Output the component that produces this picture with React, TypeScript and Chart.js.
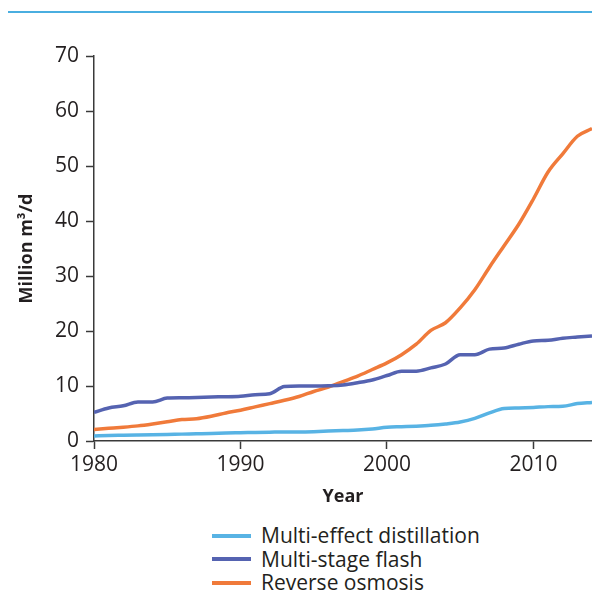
import React, { useEffect, useRef } from "react";
import { Chart, registerables } from "chart.js";

Chart.register(...registerables);

const years = [
  1980, 1981, 1982, 1983, 1984, 1985, 1986, 1987, 1988, 1989,
  1990, 1991, 1992, 1993, 1994, 1995, 1996, 1997, 1998, 1999,
  2000, 2001, 2002, 2003, 2004, 2005, 2006, 2007, 2008, 2009,
  2010, 2011, 2012, 2013, 2014,
];

const multiEffectDistillation = [
  0.9, 1.0, 1.05, 1.1, 1.15, 1.2, 1.25, 1.3, 1.35, 1.45,
  1.5, 1.55, 1.6, 1.65, 1.65, 1.7, 1.8, 1.9, 2.0, 2.2,
  2.5, 2.6, 2.7, 2.85, 3.1, 3.45, 4.1, 5.1, 5.9, 6.0,
  6.1, 6.25, 6.3, 6.8, 7.0,
];

const multiStageFlash = [
  5.2, 6.0, 6.4, 7.1, 7.1, 7.8, 7.85, 7.9, 8.0, 8.05,
  8.15, 8.4, 8.6, 9.9, 10.0, 10.0, 10.05, 10.2, 10.6, 11.1,
  11.9, 12.7, 12.7, 13.3, 14.0, 15.7, 15.7, 16.7, 16.9, 17.6,
  18.2, 18.3, 18.7, 18.9, 19.1,
];

const reverseOsmosis = [
  2.1, 2.3, 2.5, 2.75, 3.1, 3.5, 3.9, 4.05, 4.5, 5.1,
  5.6, 6.2, 6.8, 7.4, 8.1, 9.0, 9.8, 10.8, 11.8, 13.0,
  14.2, 15.7, 17.6, 20.1, 21.5, 24.2, 27.5, 31.6, 35.5, 39.4,
  44.0, 48.9, 52.2, 55.4, 56.8,
];

const seriesNames = ["Multi-effect distillation", "Multi-stage flash", "Reverse osmosis"];
const seriesColors = ["#58b3e4", "#5563b1", "#f07a3a"];
const seriesValues = [multiEffectDistillation, multiStageFlash, reverseOsmosis];

const xTickValues = [1980, 1990, 2000, 2010];
const yTickValues = [0, 10, 20, 30, 40, 50, 60, 70];

const TEXT = "#231f20";
const FONT = "'Open Sans', 'Noto Sans', sans-serif";

export default function App() {
  const canvasRef = useRef<HTMLCanvasElement | null>(null);

  useEffect(() => {
    const canvas = canvasRef.current;
    if (!canvas) return;
    const chart = new Chart(canvas, {
      type: "line",
      data: {
        datasets: seriesNames.map((name, i) => ({
          label: name,
          data: years.map((yr, j) => ({ x: yr, y: seriesValues[i][j] })),
          borderColor: seriesColors[i],
          backgroundColor: seriesColors[i],
          borderWidth: 3.5,
          pointRadius: 0,
          cubicInterpolationMode: "monotone" as const,
          borderJoinStyle: "round" as const,
          fill: false,
        })),
      },
      options: {
        animation: false,
        responsive: true,
        maintainAspectRatio: false,
        layout: { padding: { top: 43, right: 0, bottom: 0, left: 0 } },
        plugins: {
          legend: { display: false },
          tooltip: { enabled: false },
        },
        scales: {
          x: {
            type: "linear",
            min: 1980,
            max: 2014,
            afterBuildTicks: (scale: any) => {
              scale.ticks = xTickValues.map((v) => ({ value: v }));
            },
            afterFit: (scale: any) => {
              scale.height = 70;
            },
            ticks: {
              color: TEXT,
              font: { family: FONT, size: 21 },
              padding: 3,
              maxRotation: 0,
              callback: (v: any) => String(v),
            },
            grid: {
              drawOnChartArea: false,
              drawTicks: true,
              tickLength: 8,
              tickColor: "#3a3a3a",
              tickWidth: 1.5,
            },
            border: { display: true, color: "#3a3a3a", width: 1.5 },
            title: {
              display: true,
              text: "Year",
              color: TEXT,
              font: { family: FONT, size: 18, weight: "bold" },
              padding: { top: 0, bottom: 3 },
            },
          },
          y: {
            type: "linear",
            min: 0,
            max: 70,
            afterBuildTicks: (scale: any) => {
              scale.ticks = yTickValues.map((v) => ({ value: v }));
            },
            afterFit: (scale: any) => {
              scale.width = 86;
            },
            ticks: {
              color: TEXT,
              font: { family: FONT, size: 21 },
              padding: 7,
            },
            grid: {
              drawOnChartArea: false,
              drawTicks: true,
              tickLength: 8,
              tickColor: "#3a3a3a",
              tickWidth: 1.5,
            },
            border: { display: true, color: "#3a3a3a", width: 1.5 },
            title: {
              display: true,
              text: "Million m³/d",
              color: TEXT,
              font: { family: FONT, size: 18, weight: "bold" },
              padding: { top: 8, bottom: 0 },
            },
          },
        },
      },
    });
    return () => chart.destroy();
  }, []);

  return (
    <div style={{ position: "absolute", left: 8, top: 8, paddingTop: 3, width: 584, overflow: "hidden" }}>
      <div style={{ height: 2, background: "#4aaee0" }} />
      <div style={{ position: "relative", width: 584, height: 498 }}>
        <canvas ref={canvasRef} />
      </div>
      <div style={{ marginTop: 13, marginLeft: 204, fontFamily: FONT, fontSize: 21, color: TEXT }}>
        {seriesNames.map((name, i) => (
          <div key={name} style={{ display: "flex", alignItems: "center", height: 23.5 }}>
            <span style={{ display: "inline-block", width: 39, height: 4, background: seriesColors[i], marginRight: 10 }} />
            <span style={{ lineHeight: "23.5px" }}>{name}</span>
          </div>
        ))}
      </div>
    </div>
  );
}
